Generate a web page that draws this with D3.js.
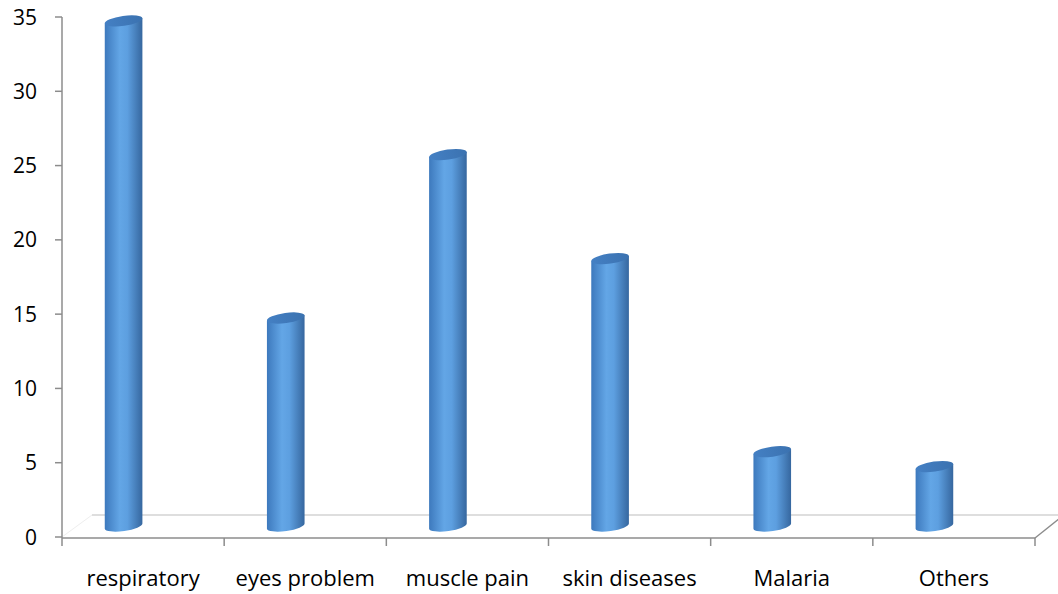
<!DOCTYPE html>
<html>
<head>
<meta charset="utf-8">
<script src="https://cdn.jsdelivr.net/npm/d3@7"></script>
<style>
  body { margin: 0; background: #fff; }
  text { font-family: "Open Sans", sans-serif; fill: #000; }
</style>
</head>
<body>
<div id="chart"></div>
<script>
// data
var categories = ["respiratory", "eyes problem", "muscle pain", "skin diseases", "Malaria", "Others"];
var values = [34, 14, 25, 18, 5, 4];
var yTicks = [0, 5, 10, 15, 20, 25, 30, 35];

var W = 1058, H = 594;
var x0 = 62, x1 = 1035, yBase = 537, yTop = 17;
// depth offset of the 3d floor
var depthX = 30, depthY = -22;

var svg = d3.select("#chart").append("svg")
    .attr("width", W)
    .attr("height", H);

var xScale = d3.scaleBand()
    .domain(categories)
    .range([x0, x1])
    .padding(0);

var yScale = d3.scaleLinear()
    .domain([0, 35])
    .range([yBase, yTop]);

// gradients for the cylinders
var defs = svg.append("defs");
var grad = defs.append("linearGradient")
    .attr("id", "body")
    .attr("x1", "0%").attr("x2", "100%")
    .attr("y1", "0%").attr("y2", "0%");
grad.append("stop").attr("offset", "0%").attr("stop-color", "#3d79bd");
grad.append("stop").attr("offset", "40%").attr("stop-color", "#63a6e6");
grad.append("stop").attr("offset", "60%").attr("stop-color", "#5d9fe0");
grad.append("stop").attr("offset", "100%").attr("stop-color", "#36679f");

var topGrad = defs.append("linearGradient")
    .attr("id", "top")
    .attr("x1", "0%").attr("x2", "100%")
    .attr("y1", "0%").attr("y2", "0%");
topGrad.append("stop").attr("offset", "0%").attr("stop-color", "#4480c4");
topGrad.append("stop").attr("offset", "100%").attr("stop-color", "#3b72b0");

// floor: faint left edge, back line, right edge
svg.append("line")
    .attr("x1", x0).attr("y1", yBase)
    .attr("x2", x0 + depthX).attr("y2", yBase + depthY)
    .attr("stroke", "#eeeeee");

svg.append("line")
    .attr("x1", x0 + depthX).attr("y1", yBase + depthY)
    .attr("x2", W).attr("y2", yBase + depthY)
    .attr("stroke", "#bdbdbd")
    .attr("stroke-width", 1);

svg.append("line")
    .attr("x1", x1).attr("y1", yBase + 1)
    .attr("x2", x1 + 25).attr("y2", yBase - 19)
    .attr("stroke", "#8c8c8c")
    .attr("stroke-width", 1.5);

// cylinders, ends tilted a little
var rx = 19, ry = 5, baseOff = -11, shift = -19.5, tilt = -8;
var ex = rx * Math.cos(tilt * Math.PI / 180),
    ey = -rx * Math.sin(tilt * Math.PI / 180);

var bars = svg.selectAll("g.bar")
    .data(categories)
    .enter().append("g")
    .attr("class", "bar");

bars.each(function(c, i) {
  var g = d3.select(this);
  var cx = xScale(c) + xScale.bandwidth() / 2 + shift;
  var yb = yScale(0) + baseOff;
  var yt = yScale(values[i]) + baseOff;
  var p = "M" + (cx - ex) + "," + (yt + ey) +
          "L" + (cx - ex) + "," + (yb + ey) +
          "A" + rx + "," + ry + " " + tilt + " 0 0 " + (cx + ex) + "," + (yb - ey) +
          "L" + (cx + ex) + "," + (yt - ey) + "Z";
  g.append("path")
    .attr("d", p)
    .attr("fill", "url(#body)");
  g.append("ellipse")
    .attr("cx", cx).attr("cy", yt)
    .attr("rx", rx).attr("ry", ry)
    .attr("transform", "rotate(" + tilt + "," + cx + "," + yt + ")")
    .attr("fill", "url(#top)");
});

// y axis
svg.append("line")
    .attr("x1", x0).attr("y1", yTop)
    .attr("x2", x0).attr("y2", yBase + 1)
    .attr("stroke", "#8c8c8c")
    .attr("stroke-width", 1.5);

svg.selectAll("line.ytick")
    .data(yTicks)
    .enter().append("line")
    .attr("class", "ytick")
    .attr("x1", x0 - 7).attr("x2", x0)
    .attr("y1", function(d) { return yScale(d); })
    .attr("y2", function(d) { return yScale(d); })
    .attr("stroke", "#8c8c8c")
    .attr("stroke-width", 1.5);

svg.selectAll("text.ylab")
    .data(yTicks)
    .enter().append("text")
    .attr("class", "ylab")
    .attr("x", 37)
    .attr("y", function(d) { return yScale(d); })
    .attr("dy", "0.36em")
    .style("text-anchor", "end")
    .style("font-size", "21px")
    .text(function(d) { return d; });

// x axis
svg.append("line")
    .attr("x1", x0).attr("y1", yBase + 1)
    .attr("x2", x1).attr("y2", yBase + 1)
    .attr("stroke", "#8c8c8c")
    .attr("stroke-width", 1.5);

var boundaries = categories.map(function(c) { return xScale(c); }).concat([x1]);
svg.selectAll("line.xtick")
    .data(boundaries)
    .enter().append("line")
    .attr("class", "xtick")
    .attr("x1", function(d) { return d; })
    .attr("x2", function(d) { return d; })
    .attr("y1", yBase + 1).attr("y2", yBase + 9)
    .attr("stroke", "#8c8c8c")
    .attr("stroke-width", 1.5);

svg.selectAll("text.xlab")
    .data(categories)
    .enter().append("text")
    .attr("class", "xlab")
    .attr("x", function(d) { return xScale(d) + xScale.bandwidth() / 2; })
    .attr("y", 586)
    .style("text-anchor", "middle")
    .style("font-size", "22px")
    .text(function(d) { return d; });
</script>
</body>
</html>
